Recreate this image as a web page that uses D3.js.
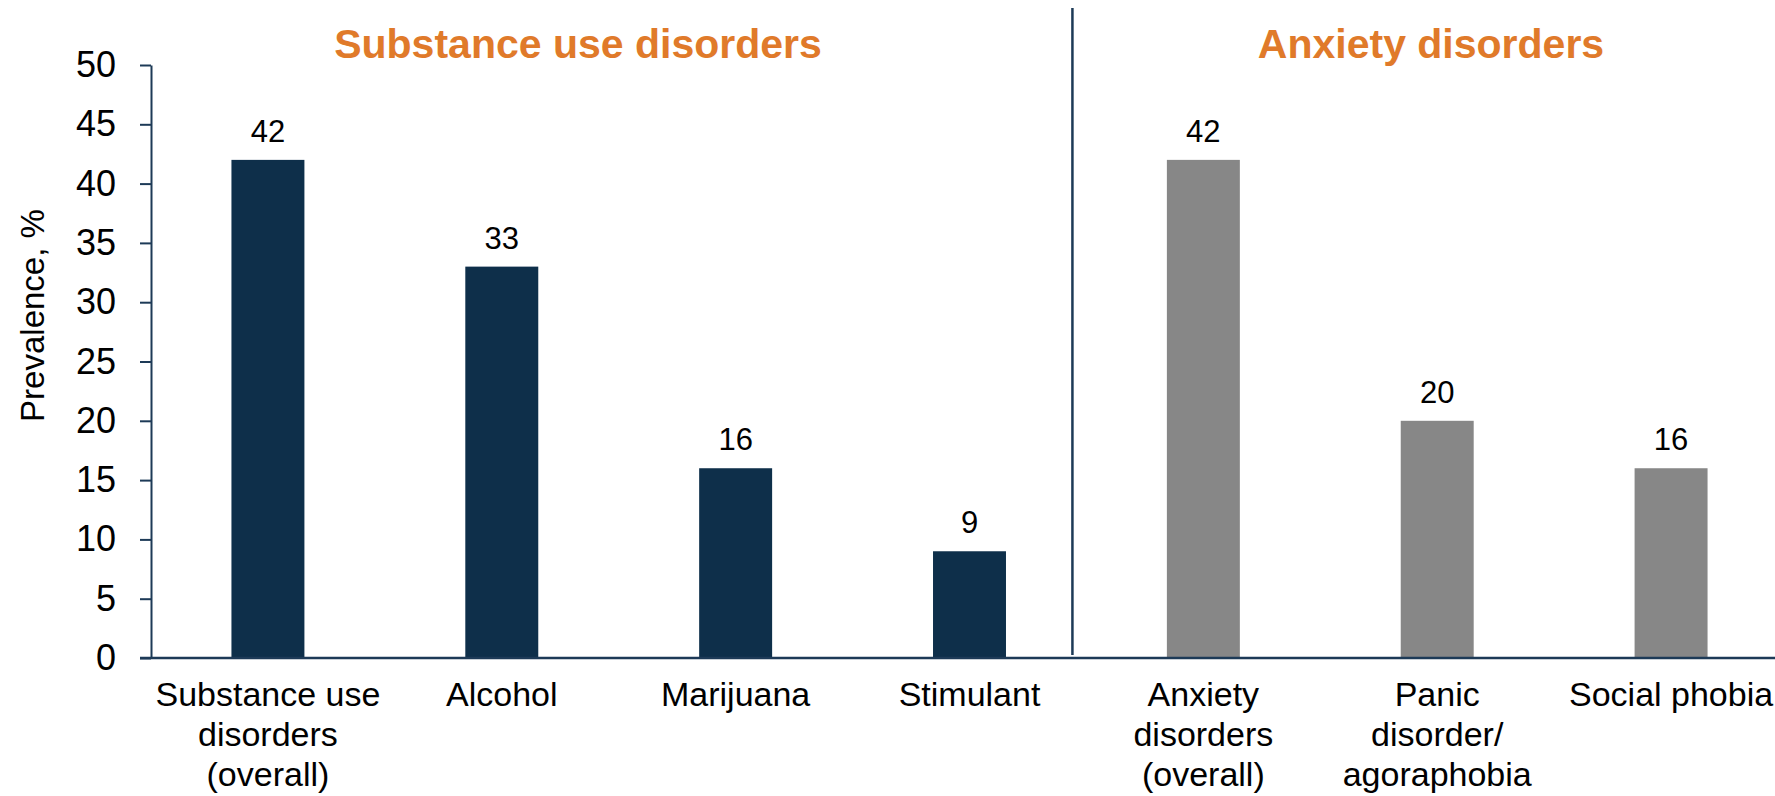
<!DOCTYPE html>
<html>
<head>
<meta charset="utf-8">
<script src="https://cdn.jsdelivr.net/npm/d3@7"></script>
<style>
  body { margin: 0; background: #fff; }
  svg { display: block; font-family: "Liberation Sans", Arial, sans-serif; }
</style>
</head>
<body>
<div id="chart"></div>
<script>
// chart data
const categories = [
    'Substance use\ndisorders\n(overall)', 'Alcohol', 'Marijuana', 'Stimulant',
    'Anxiety\ndisorders\n(overall)', 'Panic\ndisorder/\nagoraphobia', 'Social phobia'
];
const values = [42, 33, 16, 9, 42, 20, 16];
const groups = ['substance', 'substance', 'substance', 'substance', 'anxiety', 'anxiety', 'anxiety'];
const groupTitles = ['Substance use disorders', 'Anxiety disorders'];
const yTicks = [0, 5, 10, 15, 20, 25, 30, 35, 40, 45, 50];

const WIDTH = 1775, HEIGHT = 796;
const NAVY = '#0e2f4a';
const AXIS = '#1d3a57';
const GREY = '#878787';
const ORANGE = '#e07a2a';

const svg = d3.select('#chart').append('svg')
    .attr('width', WIDTH)
    .attr('height', HEIGHT);

const x = d3.scaleBand()
    .domain(categories)
    .range([151, 1788])
    .paddingInner(0.688)
    .paddingOuter(0.344);

const y = d3.scaleLinear()
    .domain([0, 50])
    .range([658, 65]);

// y axis
const yAxis = svg.append('g')
    .attr('transform', 'translate(151,0)')
    .call(d3.axisLeft(y).tickValues(yTicks).tickSize(11).tickSizeOuter(0).tickPadding(24));
yAxis.select('.domain').attr('stroke', AXIS).attr('stroke-width', 2);
yAxis.selectAll('.tick line').attr('stroke', AXIS).attr('stroke-width', 2);
yAxis.selectAll('.tick text')
    .attr('fill', '#000')
    .style('font-size', '36px')
    .style('font-family', '"Liberation Sans", Arial, sans-serif');

// y label
svg.append('text')
    .attr('transform', `translate(44,${(y(0) + y(50)) / 2 - 46}) rotate(-90)`)
    .attr('text-anchor', 'middle')
    .style('font-size', '33px')
    .text('Prevalence, %');

// bars
svg.append('g').selectAll('rect')
    .data(values)
    .join('rect')
    .attr('x', (d, i) => x(categories[i]))
    .attr('y', d => y(d))
    .attr('width', x.bandwidth())
    .attr('height', d => y(0) - y(d))
    .attr('fill', (d, i) => groups[i] === 'substance' ? NAVY : GREY);

// value labels
svg.append('g').selectAll('text')
    .data(values)
    .join('text')
    .attr('x', (d, i) => x(categories[i]) + x.bandwidth() / 2)
    .attr('y', d => y(d) - 18)
    .attr('text-anchor', 'middle')
    .style('font-size', '31px')
    .text(d => d);

// x axis baseline
svg.append('line')
    .attr('x1', 140).attr('x2', WIDTH)
    .attr('y1', y(0)).attr('y2', y(0))
    .attr('stroke', AXIS)
    .attr('stroke-width', 2.5);

// divider between the two groups
const divX = x.range()[0] + x.step() * 4 - 14;
svg.append('line')
    .attr('x1', divX).attr('x2', divX)
    .attr('y1', 8).attr('y2', y(0) - 3)
    .attr('stroke', AXIS)
    .attr('stroke-width', 2.5);

// category labels
const catLabels = svg.append('g').selectAll('text')
    .data(categories)
    .join('text')
    .attr('x', d => x(d) + x.bandwidth() / 2)
    .attr('y', 706)
    .attr('text-anchor', 'middle')
    .style('font-size', '34px');
catLabels.each(function(d) {
    const t = d3.select(this);
    const cx = t.attr('x');
    d.split('\n').forEach((line, i) => {
        t.append('tspan').attr('x', cx).attr('dy', i === 0 ? 0 : 40).text(line);
    });
});

// group titles
const titleX = [578, 1431];
svg.append('g').selectAll('text')
    .data(groupTitles)
    .join('text')
    .attr('x', (d, i) => titleX[i])
    .attr('y', 58)
    .attr('text-anchor', 'middle')
    .attr('fill', ORANGE)
    .style('font-size', '41px')
    .style('font-weight', 'bold')
    .text(d => d);
</script>
</body>
</html>
